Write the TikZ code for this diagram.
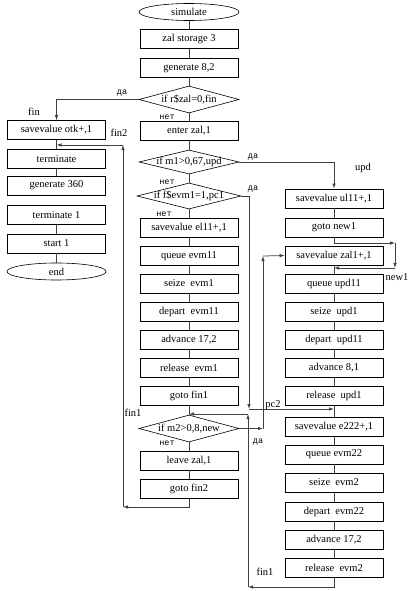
\documentclass[tikz,border=0pt]{standalone}
\usepackage{fontspec}
\setmainfont{Liberation Serif}
\newfontfamily\labfont{Liberation Mono}
\usetikzlibrary{shapes.geometric,arrows.meta,calc}

\tikzset{
  blk/.style={draw, line width=0.6pt, minimum width=98pt, minimum height=19pt, inner sep=1pt},
  cond/.style={draw, line width=0.6pt, diamond, minimum width=100pt, minimum height=26pt, inner sep=0pt},
  term/.style={draw, line width=0.6pt, ellipse, minimum width=100pt, minimum height=17pt, inner sep=0pt},
  con/.style={draw=black!75, line width=0.75pt},
  arr/.style={con, -{Latex[length=5pt,width=3.5pt]}},
  lab/.style={font=\labfont\fontsize{8.5}{9}\selectfont, inner sep=0pt},
  tag/.style={inner sep=0pt},
}

\begin{document}
\begin{tikzpicture}[x=1pt, y=-1pt, font=\fontsize{10.5}{12}\selectfont]
\useasboundingbox (0,0) rectangle (414,591);

% middle column
\node[term] (sim) at (189,12) {simulate};
\node[blk] (stor) at (189,39) {zal storage 3};
\node[blk] (gen) at (189,68) {generate 8,2};
\node[cond, minimum height=27pt] (rzal) at (189,99.5) {\makebox[0pt]{if r\$zal=0,fin}};
\node[blk] (enter) at (189,130.5) {enter zal,1};
\node[cond, minimum height=24pt] (m1) at (189,162) {\makebox[0pt]{if m1>0,67,upd}};
\node[cond, minimum width=104pt] (fevm) at (189,196) {\makebox[0pt]{if f\$evm1=1,pc1}};
\node[blk] (el) at (189,228) {savevalue el11+,1};
\node[blk] (qevm) at (189,256) {queue evm11};
\node[blk] (sevm) at (189,283.5) {seize~ evm1};
\node[blk] (devm) at (189,311.5) {depart~ evm11};
\node[blk] (aevm) at (189,339.5) {advance 17,2};
\node[blk] (revm) at (189,367.5) {release~ evm1};
\node[blk] (gfin1) at (189,396) {goto fin1};
\node[cond, minimum height=27pt] (m2) at (189,428.5) {\makebox[0pt]{if m2>0,8,new}};
\node[blk] (leave) at (189,460.5) {leave zal,1};
\node[blk] (gfin2) at (189,489) {goto fin2};

% left column
\node[blk] (otk) at (56.5,130) {savevalue otk+,1};
\node[blk] (term) at (56.5,159) {terminate};
\node[blk] (g360) at (56.5,185.5) {generate 360};
\node[blk] (term1) at (56.5,215) {terminate 1};
\node[blk] (start) at (56.5,243.5) {start 1};
\node[term, minimum width=99pt] (fine) at (56.5,271.5) {end};

% right column
\node[blk] (ul) at (334,198.5) {savevalue ul11+,1};
\node[blk] (gnew) at (334,227.5) {goto new1};
\node[blk] (zall) at (334,255.5) {savevalue zal1+,1};
\node[blk] (qupd) at (334,283.5) {queue upd11};
\node[blk] (supd) at (334,311.5) {seize~ upd1};
\node[blk] (dupd) at (334,339.5) {depart~ upd11};
\node[blk] (aupd) at (334,367.5) {advance 8,1};
\node[blk] (rupd) at (334,396) {release~ upd1};
\node[blk] (e222) at (334,426.5) {savevalue e222+,1};
\node[blk] (qevm2) at (334,454.5) {queue evm22};
\node[blk] (sevm2) at (334,482.5) {seize~ evm2};
\node[blk] (devm2) at (334,511.5) {depart~ evm22};
\node[blk] (aevm2) at (334,539.5) {advance 17,2};
\node[blk] (revm2) at (334,567.5) {release~ evm2};

% straight links
\foreach \a/\b in {sim/stor, stor/gen, gen/rzal, rzal/enter, enter/m1, m1/fevm, fevm/el,
  el/qevm, qevm/sevm, sevm/devm, devm/aevm, aevm/revm, revm/gfin1, gfin1/m2, m2/leave,
  leave/gfin2, otk/term, term/g360, term1/start, start/fine, ul/gnew, zall/qupd,
  qupd/supd, supd/dupd, dupd/aupd, aupd/rupd, rupd/e222, e222/qevm2, qevm2/sevm2,
  sevm2/devm2, devm2/aevm2, aevm2/revm2}
  \draw[con] (\a.south) -- (\b.north);

% branches
\draw[arr] (rzal.west) -| (otk.north);
\draw[arr] (m1.east) -| (ul.north);

\coordinate (pc) at (249,409);
\draw[arr] (fevm.east) -| (pc);
\draw[arr] (pc) -- (pc -| rupd.south);

\coordinate (n1) at (395,243);
\coordinate (n2) at (395,268);
\draw[arr] (gnew.south) |- (n1);
\draw[arr] (n1) -- (n2);
\draw[arr] (n2) -- (n2 -| qupd.north);

\coordinate (w1) at (263,428.5);
\coordinate (w2) at (263,256);
\draw[arr] (m2.east) -- (w1);
\draw[arr] (w1) -- (w2);
\draw[arr] (w2) -- (zall.west);

\coordinate (f2a) at (123,507);
\coordinate (f2b) at (123,145);
\draw[arr] (gfin2.south) |- (f2a);
\draw[arr] (f2a) -- (f2b);
\draw[arr] (f2b) -- (f2b -| otk.south);

\coordinate (f1a) at (248,587);
\coordinate (f1b) at (248,414);
\draw[arr] (revm2.south) |- (f1a);
\draw[arr] (f1a) -- (f1b);
\draw[arr] (f1b) -- (f1b -| m2.north);

% labels
\node[lab] (l1) at (122,93) {да};
\node[lab] (l2) at (167,117) {нет};
\node[lab] (l3) at (253,157) {да};
\node[lab] (l4) at (167,182) {нет};
\node[lab] (l5) at (253,189) {да};
\node[lab] (l6) at (164,214) {нет};
\node[lab] (l7) at (258,442) {да};
\node[lab] (l8) at (167,443) {нет};
\node[tag] (t1) at (34,112) {fin};
\node[tag] (t2) at (119,133) {fin2};
\node[tag] (t3) at (363,168) {upd};
\node[tag] (t4) at (397,277) {new1};
\node[tag] (t5) at (273,405) {pc2};
\node[tag] (t6) at (133,413) {fin1};
\node[tag] (t7) at (265,572) {fin1};
\end{tikzpicture}
\end{document}
